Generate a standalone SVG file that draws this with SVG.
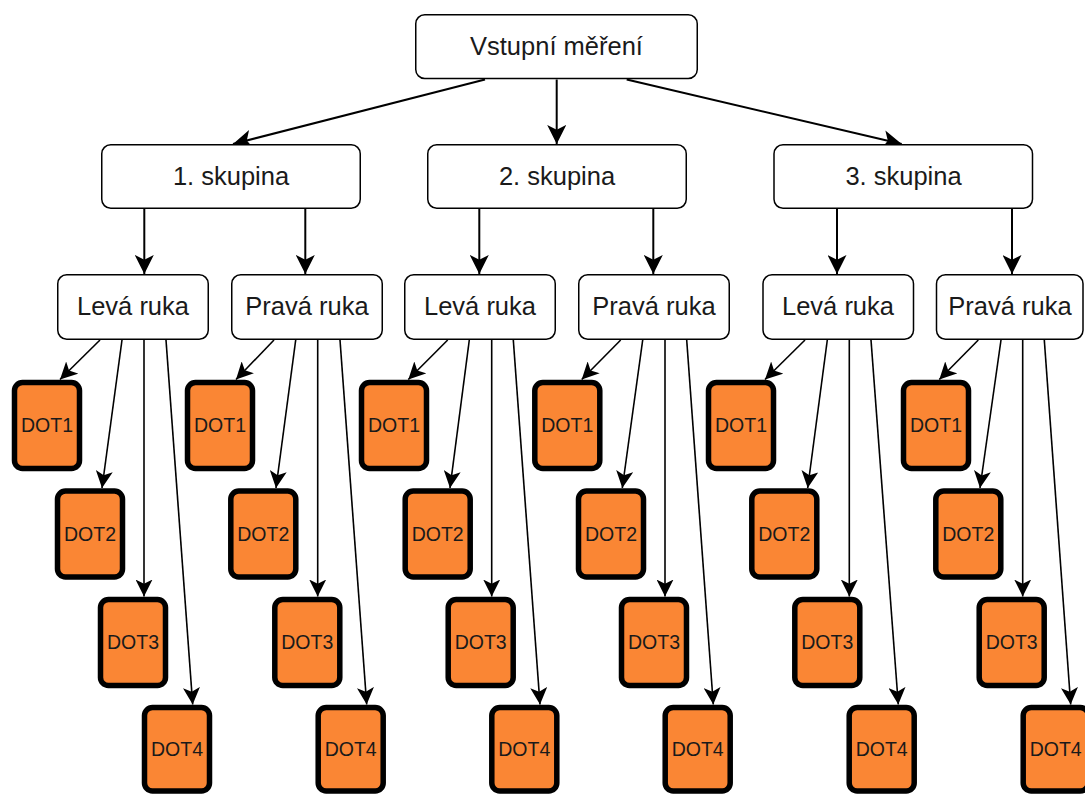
<svg xmlns="http://www.w3.org/2000/svg" width="1085" height="794" viewBox="0 0 1085 794">
<style>
.box{fill:#fff;stroke:#000;stroke-width:1.5}
.dot{fill:#FA8634;stroke:#000;stroke-width:5.5}
.t{font-family:"Liberation Sans",Arial,sans-serif;font-size:25.5px;fill:#1a1a1a;text-anchor:middle}
.td{font-family:"Liberation Sans",Arial,sans-serif;font-size:19.5px;fill:#1a1a1a;text-anchor:middle}
.c1{stroke:#000;stroke-width:2;fill:none;marker-end:url(#a1)}
.c2{stroke:#000;stroke-width:1.6;fill:none;marker-end:url(#a2)}
</style>
<defs>
<marker id="a1" markerUnits="userSpaceOnUse" markerWidth="19" markerHeight="19" viewBox="0 0 19 19" refX="19" refY="9.5" orient="auto"><path d="M0,0 L19,9.5 L0,19 L4.75,9.5 z" fill="#000"/></marker>
<marker id="a2" markerUnits="userSpaceOnUse" markerWidth="17" markerHeight="17" viewBox="0 0 17 17" refX="17" refY="8.5" orient="auto"><path d="M0,0 L17,8.5 L0,17 L4.25,8.5 z" fill="#000"/></marker>
</defs>
<rect width="1085" height="794" fill="#fff"/>
<g id="connectors">
<path class="c1" d="M485,79.5 L233,144"/>
<path class="c1" d="M556.7,79.5 L556.7,144"/>
<path class="c1" d="M626.7,79.5 L901.7,144"/>
<path class="c1" d="M144.3,209 L144.3,274"/>
<path class="c1" d="M305.3,209 L305.3,274"/>
<path class="c1" d="M479.3,209 L479.3,274"/>
<path class="c1" d="M653.3,209 L653.3,274"/>
<path class="c1" d="M837,209 L837,274"/>
<path class="c1" d="M1012,209 L1012,274"/>
<path class="c2" d="M100,340 L60,379.5"/>
<path class="c2" d="M122,340 L102,488"/>
<path class="c2" d="M144,340 L144,596.5"/>
<path class="c2" d="M166,340 L192.7,704.5"/>
<path class="c2" d="M274,340 L236,379.5"/>
<path class="c2" d="M295.7,340 L276,488"/>
<path class="c2" d="M317.7,340 L317.7,596.5"/>
<path class="c2" d="M340,340 L366.7,704.5"/>
<path class="c2" d="M447.7,340 L408.3,379.5"/>
<path class="c2" d="M469.3,340 L450,488"/>
<path class="c2" d="M491.7,340 L491.7,596.5"/>
<path class="c2" d="M513.3,340 L540,704.5"/>
<path class="c2" d="M620.7,340 L581.7,379.5"/>
<path class="c2" d="M642.7,340 L622.3,488"/>
<path class="c2" d="M665,340 L665,596.5"/>
<path class="c2" d="M686.7,340 L713.3,704.5"/>
<path class="c2" d="M805,340 L765,379.5"/>
<path class="c2" d="M827.3,340 L807.7,488"/>
<path class="c2" d="M849.3,340 L849.3,596.5"/>
<path class="c2" d="M871,340 L898.3,704.5"/>
<path class="c2" d="M978.3,340 L939.3,379.5"/>
<path class="c2" d="M1001,340 L980,488"/>
<path class="c2" d="M1022.7,340 L1022.7,596.5"/>
<path class="c2" d="M1044.3,340 L1070.7,704.5"/>
</g>
<g id="vstup"><rect class="box" x="415.75" y="14.75" width="281.5" height="63.75" rx="9"/><text class="t" x="556.5" y="55">Vstupní měření</text></g>
<g id="sk1"><rect class="box" x="101.75" y="144.75" width="258.5" height="63.5" rx="9"/><text class="t" x="231" y="184.5">1. skupina</text></g>
<g id="sk2"><rect class="box" x="427.75" y="144.75" width="258.5" height="63.5" rx="9"/><text class="t" x="557" y="184.5">2. skupina</text></g>
<g id="sk3"><rect class="box" x="774" y="144.75" width="258.5" height="63.5" rx="9"/><text class="t" x="903.5" y="184.5">3. skupina</text></g>
<g id="g1L"><rect class="box" x="57.75" y="274.75" width="150.5" height="64.5" rx="9"/><text class="t" x="133" y="315">Levá ruka</text></g>
<g id="g1R"><rect class="box" x="231.75" y="274.75" width="150.5" height="64.5" rx="9"/><text class="t" x="307" y="315">Pravá ruka</text></g>
<g id="g2L"><rect class="box" x="404.75" y="274.75" width="150.5" height="64.5" rx="9"/><text class="t" x="480" y="315">Levá ruka</text></g>
<g id="g2R"><rect class="box" x="578.75" y="274.75" width="150.5" height="64.5" rx="9"/><text class="t" x="654" y="315">Pravá ruka</text></g>
<g id="g3L"><rect class="box" x="763" y="274.75" width="150.5" height="64.5" rx="9"/><text class="t" x="838" y="315">Levá ruka</text></g>
<g id="g3R"><rect class="box" x="936.5" y="274.75" width="146.5" height="64.5" rx="9"/><text class="t" x="1010" y="315">Pravá ruka</text></g>
<g id="g1L_d1"><rect class="dot" x="14.5" y="382.5" width="65" height="86" rx="8"/><text class="td" x="47" y="432">DOT1</text></g>
<g id="g1L_d2"><rect class="dot" x="57.5" y="491" width="65" height="86" rx="8"/><text class="td" x="90" y="540.5">DOT2</text></g>
<g id="g1L_d3"><rect class="dot" x="100.5" y="599.5" width="65" height="86" rx="8"/><text class="td" x="133" y="649">DOT3</text></g>
<g id="g1L_d4"><rect class="dot" x="144.5" y="707.5" width="65" height="83.5" rx="8"/><text class="td" x="177" y="756">DOT4</text></g>
<g id="g1R_d1"><rect class="dot" x="187.5" y="382.5" width="65" height="86" rx="8"/><text class="td" x="220" y="432">DOT1</text></g>
<g id="g1R_d2"><rect class="dot" x="230.8" y="491" width="65" height="86" rx="8"/><text class="td" x="263.3" y="540.5">DOT2</text></g>
<g id="g1R_d3"><rect class="dot" x="274.8" y="599.5" width="65" height="86" rx="8"/><text class="td" x="307.3" y="649">DOT3</text></g>
<g id="g1R_d4"><rect class="dot" x="318.2" y="707.5" width="65" height="83.5" rx="8"/><text class="td" x="350.7" y="756">DOT4</text></g>
<g id="g2L_d1"><rect class="dot" x="361.5" y="382.5" width="65" height="86" rx="8"/><text class="td" x="394" y="432">DOT1</text></g>
<g id="g2L_d2"><rect class="dot" x="405.2" y="491" width="65" height="86" rx="8"/><text class="td" x="437.7" y="540.5">DOT2</text></g>
<g id="g2L_d3"><rect class="dot" x="448.2" y="599.5" width="65" height="86" rx="8"/><text class="td" x="480.7" y="649">DOT3</text></g>
<g id="g2L_d4"><rect class="dot" x="491.8" y="707.5" width="65" height="83.5" rx="8"/><text class="td" x="524.3" y="756">DOT4</text></g>
<g id="g2R_d1"><rect class="dot" x="534.8" y="382.5" width="65" height="86" rx="8"/><text class="td" x="567.3" y="432">DOT1</text></g>
<g id="g2R_d2"><rect class="dot" x="578.5" y="491" width="65" height="86" rx="8"/><text class="td" x="611" y="540.5">DOT2</text></g>
<g id="g2R_d3"><rect class="dot" x="621.5" y="599.5" width="65" height="86" rx="8"/><text class="td" x="654" y="649">DOT3</text></g>
<g id="g2R_d4"><rect class="dot" x="665.2" y="707.5" width="65" height="83.5" rx="8"/><text class="td" x="697.7" y="756">DOT4</text></g>
<g id="g3L_d1"><rect class="dot" x="708.5" y="382.5" width="65" height="86" rx="8"/><text class="td" x="741" y="432">DOT1</text></g>
<g id="g3L_d2"><rect class="dot" x="751.8" y="491" width="65" height="86" rx="8"/><text class="td" x="784.3" y="540.5">DOT2</text></g>
<g id="g3L_d3"><rect class="dot" x="794.8" y="599.5" width="65" height="86" rx="8"/><text class="td" x="827.3" y="649">DOT3</text></g>
<g id="g3L_d4"><rect class="dot" x="849.2" y="707.5" width="65" height="83.5" rx="8"/><text class="td" x="881.7" y="756">DOT4</text></g>
<g id="g3R_d1"><rect class="dot" x="903.5" y="382.5" width="65" height="86" rx="8"/><text class="td" x="936" y="432">DOT1</text></g>
<g id="g3R_d2"><rect class="dot" x="935.8" y="491" width="65" height="86" rx="8"/><text class="td" x="968.3" y="540.5">DOT2</text></g>
<g id="g3R_d3"><rect class="dot" x="979.2" y="599.5" width="65" height="86" rx="8"/><text class="td" x="1011.7" y="649">DOT3</text></g>
<g id="g3R_d4"><rect class="dot" x="1023.2" y="707.5" width="65" height="83.5" rx="8"/><text class="td" x="1055.7" y="756">DOT4</text></g>
</svg>
